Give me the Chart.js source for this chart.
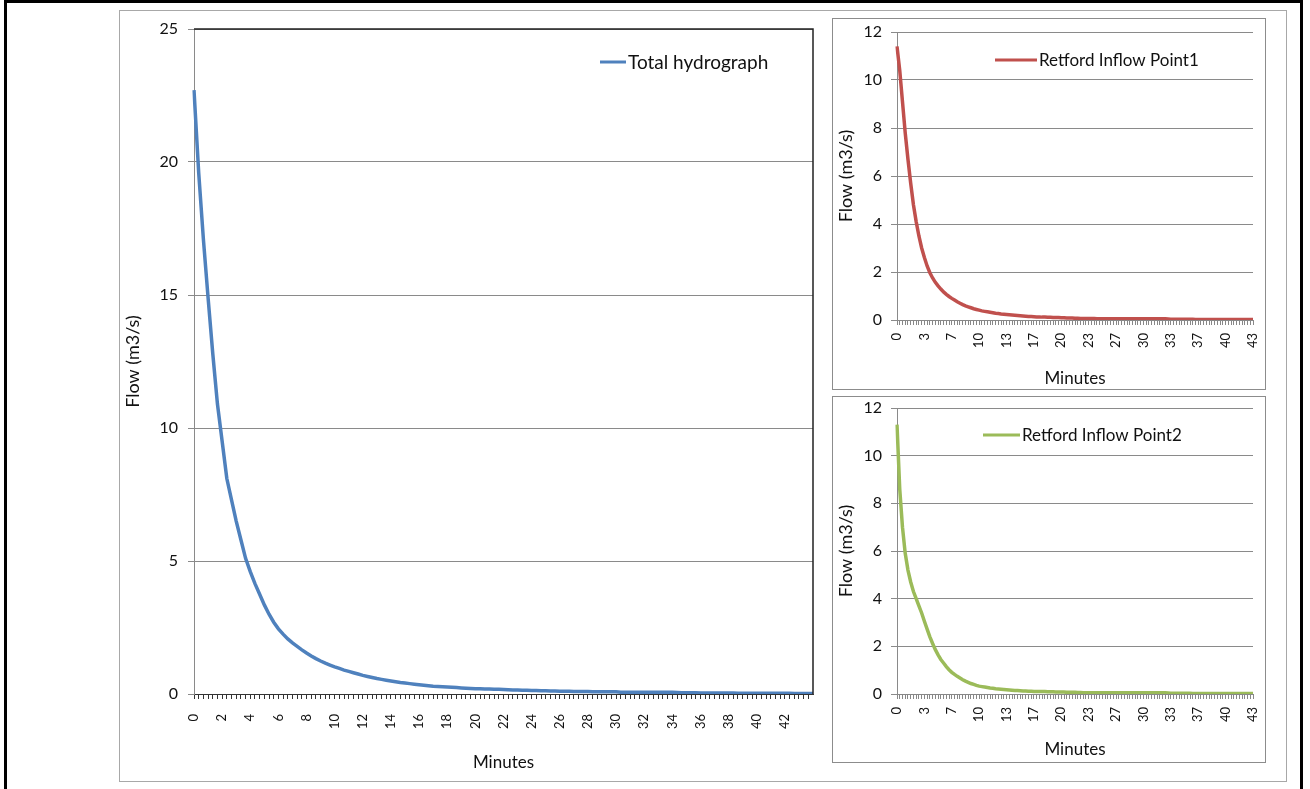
<!DOCTYPE html>
<html lang="en">
<head>
  <meta charset="UTF-8" />
  <title>Retford inflow hydrographs</title>
  <script src="https://cdn.jsdelivr.net/npm/chart.js@4.4.0/dist/chart.umd.min.js"></script>
  <style>
    body { margin: 0; background: #fff; }
    .outer { position: absolute; left: 4px; top: 0; width: 1293px; height: 800px; border: 3px solid #000; border-bottom: none; }
    .frame { position: absolute; left: 119px; top: 10px; width: 1166px; height: 770px; border: 1px solid #a8a8a8; }
    .box { position: absolute; left: 832px; width: 432px; border: 1px solid #8c8c8c; }
    canvas { position: absolute; }
  </style>
</head>
<body>
  <div class="outer"></div>
  <div class="frame"></div>
  <div class="box" style="top:18px;height:370px"></div>
  <div class="box" style="top:396px;height:365px"></div>
  <canvas id="total" width="705" height="770" style="left:120px;top:11px"></canvas>
  <canvas id="point1" width="432" height="370" style="left:833px;top:19px"></canvas>
  <canvas id="point2" width="432" height="365" style="left:833px;top:397px"></canvas>

  <script>
    // flows in m3/s, one value every 20 seconds (1/3 minute)
    const totalFlow = [
      22.7, 19.6, 17.1, 14.9, 12.8, 10.9, 9.5, 8.1, 7.3, 6.5,
      5.8, 5.1, 4.6, 4.15, 3.75, 3.35, 3.0, 2.7, 2.45, 2.25,
      2.07, 1.92, 1.79, 1.66, 1.54, 1.43, 1.33, 1.24, 1.16, 1.09,
      1.02, 0.96, 0.9, 0.85, 0.8, 0.75, 0.7, 0.66, 0.62, 0.58,
      0.55, 0.52, 0.49, 0.46, 0.43, 0.41, 0.39, 0.37, 0.35, 0.33,
      0.31, 0.29, 0.28, 0.27, 0.26, 0.25, 0.24, 0.23, 0.22, 0.21,
      0.2, 0.2, 0.19, 0.19, 0.18, 0.18, 0.17, 0.16, 0.15, 0.15,
      0.14, 0.14, 0.13, 0.13, 0.12, 0.12, 0.11, 0.11, 0.1, 0.1,
      0.1, 0.09, 0.09, 0.09, 0.09, 0.08, 0.08, 0.08, 0.08, 0.08,
      0.08, 0.07, 0.07, 0.07, 0.07, 0.07, 0.07, 0.07, 0.07, 0.07,
      0.07, 0.07, 0.07, 0.06, 0.05, 0.05, 0.05, 0.05, 0.04, 0.04,
      0.04, 0.04, 0.04, 0.04, 0.04, 0.04, 0.03, 0.03, 0.03, 0.03,
      0.03, 0.03, 0.03, 0.03, 0.03, 0.03, 0.03, 0.03, 0.02, 0.02,
      0.02, 0.02, 0.02
    ];
    const point1Flow = [
      11.4, 10.4, 9.1, 7.8, 6.7, 5.7, 4.8, 4.1, 3.5, 3.0,
      2.6, 2.25, 1.97, 1.75, 1.57, 1.42, 1.29, 1.17, 1.07, 0.98,
      0.9, 0.83, 0.76, 0.7, 0.64, 0.59, 0.55, 0.51, 0.47, 0.44,
      0.41, 0.38, 0.36, 0.34, 0.32, 0.3, 0.28, 0.27, 0.25, 0.24,
      0.23, 0.22, 0.21, 0.2, 0.19, 0.18, 0.17, 0.16, 0.15, 0.15,
      0.14, 0.13, 0.13, 0.12, 0.12, 0.11, 0.11, 0.1, 0.1, 0.1,
      0.09, 0.09, 0.08, 0.08, 0.08, 0.07, 0.07, 0.06, 0.06, 0.06,
      0.06, 0.06, 0.06, 0.05, 0.05, 0.05, 0.05, 0.05, 0.05, 0.05,
      0.05, 0.05, 0.05, 0.05, 0.05, 0.05, 0.05, 0.05, 0.05, 0.05,
      0.05, 0.05, 0.05, 0.05, 0.05, 0.05, 0.05, 0.05, 0.05, 0.04,
      0.03, 0.03, 0.03, 0.03, 0.03, 0.03, 0.03, 0.03, 0.03, 0.02,
      0.02, 0.02, 0.02, 0.02, 0.02, 0.02, 0.02, 0.02, 0.02, 0.02,
      0.02, 0.02, 0.02, 0.02, 0.02, 0.02, 0.02, 0.02, 0.02, 0.02,
      0.02
    ];
    const point2Flow = [
      11.3, 8.6, 7.0, 5.9, 5.2, 4.7, 4.3, 4.0, 3.7, 3.4,
      3.05, 2.72, 2.4, 2.12, 1.86, 1.64, 1.45, 1.3, 1.15, 1.02,
      0.91, 0.82, 0.74, 0.67, 0.6, 0.54, 0.49, 0.44, 0.4, 0.36,
      0.33, 0.31, 0.29, 0.27, 0.25, 0.24, 0.22, 0.21, 0.2, 0.19,
      0.18, 0.17, 0.16, 0.15, 0.15, 0.14, 0.13, 0.13, 0.12, 0.12,
      0.11, 0.11, 0.1, 0.1, 0.1, 0.09, 0.09, 0.09, 0.08, 0.08,
      0.08, 0.08, 0.07, 0.07, 0.07, 0.07, 0.06, 0.06, 0.05, 0.05,
      0.05, 0.05, 0.05, 0.05, 0.05, 0.05, 0.05, 0.05, 0.05, 0.05,
      0.05, 0.05, 0.05, 0.05, 0.05, 0.05, 0.05, 0.05, 0.05, 0.05,
      0.05, 0.05, 0.05, 0.05, 0.05, 0.05, 0.05, 0.05, 0.05, 0.04,
      0.03, 0.03, 0.03, 0.03, 0.03, 0.03, 0.03, 0.03, 0.02, 0.02,
      0.02, 0.02, 0.02, 0.02, 0.02, 0.02, 0.02, 0.02, 0.02, 0.02,
      0.02, 0.02, 0.02, 0.02, 0.02, 0.02, 0.02, 0.02, 0.02, 0.02,
      0.02
    ];
    // minute labels shown under every 6th (left) / 10th (right) sample
    const totalTickLabels = ['0','2','4','6','8','10','12','14','16','18','20','22','24','26','28','30','32','34','36','38','40','42'];
    const pointTickLabels = ['0','3','7','10','13','17','20','23','27','30','33','37','40','43'];

    const FONT = 'Lato, "Open Sans", sans-serif';
    Chart.defaults.font.family = FONT;
    Chart.defaults.color = '#111';

    // legend drawn inside the plot like the Excel original
    const inlineLegend = {
      id: 'inlineLegend',
      afterDraw(chart, args, opts) {
        const { ctx, chartArea } = chart;
        const ds = chart.data.datasets[0];
        const x = chartArea.left + opts.dx, y = chartArea.top + opts.dy;
        ctx.save();
        ctx.strokeStyle = ds.borderColor;
        ctx.lineWidth = 3;
        ctx.beginPath();
        ctx.moveTo(x, y);
        ctx.lineTo(x + opts.len, y);
        ctx.stroke();
        ctx.fillStyle = '#111';
        ctx.font = opts.size + 'px ' + FONT;
        ctx.textBaseline = 'middle';
        ctx.fillText(ds.label, x + opts.len + 2, y + 1);
        ctx.restore();
      }
    };

    const plotBorder = {
      id: 'plotBorder',
      afterDraw(chart, args, opts) {
        if (!opts.show) return;
        const { ctx, chartArea: a } = chart;
        ctx.save();
        ctx.strokeStyle = '#222';
        ctx.lineWidth = 1.5;
        ctx.beginPath();
        ctx.moveTo(a.left, a.top);
        ctx.lineTo(a.right, a.top);
        ctx.lineTo(a.right, a.bottom);
        ctx.stroke();
        ctx.restore();
      }
    };

    // keep the plot area where the layout padding says, ignoring label overhang
    const noOverhang = s => {
      s.paddingTop = 0; s.paddingBottom = 0; s.paddingLeft = 0; s.paddingRight = 0;
    };

    function makeChart(id, cfg) {
      new Chart(document.getElementById(id), {
        type: 'line',
        data: {
          labels: cfg.data.map((_, i) => i),
          datasets: [{
            label: cfg.label,
            data: cfg.data,
            borderColor: cfg.color,
            borderWidth: 3.5,
            pointRadius: 0,
            tension: 0
          }]
        },
        plugins: [inlineLegend, plotBorder],
        options: {
          responsive: false,
          animation: false,
          layout: { padding: { left: 0, top: cfg.padTop, right: cfg.padRight, bottom: 0 } },
          plugins: {
            legend: { display: false },
            tooltip: { enabled: false },
            inlineLegend: cfg.legend,
            plotBorder: { show: cfg.border }
          },
          scales: {
            x: {
              afterFit: s => { s.height = cfg.xHeight; noOverhang(s); },
              grid: { drawOnChartArea: false, drawTicks: true, tickLength: 5, color: cfg.tickColor },
              border: { color: cfg.tickColor },
              ticks: {
                autoSkip: false,
                maxRotation: 90,
                minRotation: 90,
                padding: cfg.xPad,
                font: { size: 13 },
                callback: (v, i) => i % cfg.every === 0 ? cfg.tickLabels[i / cfg.every] : ''
              },
              title: { display: true, text: 'Minutes', font: { size: 17 }, padding: { top: 0, bottom: cfg.titlePad } }
            },
            y: {
              min: 0,
              max: cfg.max,
              afterFit: s => { s.width = cfg.yWidth; noOverhang(s); },
              grid: { color: '#8a8a8a', tickLength: 6 },
              border: { color: '#8a8a8a' },
              ticks: { stepSize: cfg.step, padding: cfg.yPad, font: { size: 16 } },
              title: { display: true, text: 'Flow (m3/s)', font: { size: 18 }, padding: { top: 2, bottom: 0 } }
            }
          }
        }
      });
    }

    makeChart('total', {
      data: totalFlow, label: 'Total hydrograph', color: '#4F81BD',
      max: 25, step: 5, every: 6, tickLabels: totalTickLabels,
      padTop: 18, padRight: 12, xHeight: 87, yWidth: 74,
      xPad: 15, yPad: 10, titlePad: 8, tickColor: '#333',
      legend: { dx: 406, dy: 33, len: 26, size: 19 }, border: true
    });
    makeChart('point1', {
      data: point1Flow, label: 'Retford Inflow Point1', color: '#C0504D',
      max: 12, step: 2, every: 10, tickLabels: pointTickLabels,
      padTop: 13, padRight: 12, xHeight: 69, yWidth: 64,
      xPad: 8, yPad: 9, titlePad: 0, tickColor: '#888',
      legend: { dx: 98, dy: 28, len: 42, size: 17 }, border: false
    });
    makeChart('point2', {
      data: point2Flow, label: 'Retford Inflow Point2', color: '#9BBB59',
      max: 12, step: 2, every: 10, tickLabels: pointTickLabels,
      padTop: 11, padRight: 12, xHeight: 68, yWidth: 64,
      xPad: 8, yPad: 9, titlePad: 2, tickColor: '#888',
      legend: { dx: 86, dy: 27, len: 37, size: 17 }, border: false
    });
  </script>
</body>
</html>
